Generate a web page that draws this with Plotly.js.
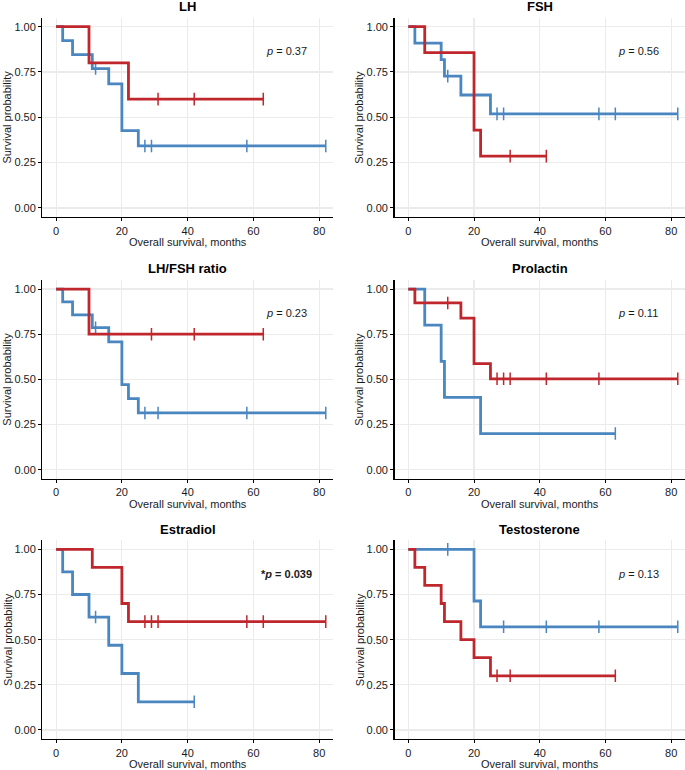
<!DOCTYPE html>
<html>
<head>
<meta charset="utf-8">
<script src="https://cdn.plot.ly/plotly-3.0.1.min.js"></script>
<style>
  html, body { margin: 0; padding: 0; background: #fff; }
  #plot { width: 685px; height: 770px; }
</style>
</head>
<body>
<div id="plot"></div>
<script>
// panel titles and p values
var panelTitles = ['LH', 'FSH', 'LH/FSH ratio', 'Prolactin', 'Estradiol', 'Testosterone'];
var pValues = ['0.37', '0.56', '0.23', '0.11', '0.039', '0.13'];
var pSignificant = [false, false, false, false, true, false];

// Kaplan-Meier steps: event times, survival after each, censor times
var lhRedTime = [0, 10, 22];
var lhRedSurv = [1, 0.8, 0.6];
var lhRedCens = [31, 42, 63];
var lhBlueTime = [0, 2, 5, 11, 16, 20, 25];
var lhBlueSurv = [1, 0.923, 0.846, 0.769, 0.684, 0.427, 0.342];
var lhBlueCens = [12, 27, 29, 58, 82];

var fshRedTime = [0, 5, 20, 22];
var fshRedSurv = [1, 0.857, 0.429, 0.286];
var fshRedCens = [31, 42];
var fshBlueTime = [0, 2, 10, 11, 16, 25];
var fshBlueSurv = [1, 0.909, 0.818, 0.727, 0.623, 0.519];
var fshBlueCens = [12, 27, 29, 58, 63, 82];

var ratioRedTime = [0, 10];
var ratioRedSurv = [1, 0.75];
var ratioRedCens = [29, 42, 63];
var ratioBlueTime = [0, 2, 5, 11, 16, 20, 22, 25];
var ratioBlueSurv = [1, 0.929, 0.857, 0.786, 0.707, 0.471, 0.393, 0.314];
var ratioBlueCens = [12, 27, 31, 58, 82];

var prlRedTime = [0, 2, 16, 20, 25];
var prlRedSurv = [1, 0.923, 0.839, 0.587, 0.503];
var prlRedCens = [12, 27, 29, 31, 42, 58, 82];
var prlBlueTime = [0, 5, 10, 11, 22];
var prlBlueSurv = [1, 0.8, 0.6, 0.4, 0.2];
var prlBlueCens = [63];

var e2RedTime = [0, 11, 20, 22];
var e2RedSurv = [1, 0.9, 0.7, 0.6];
var e2RedCens = [27, 29, 31, 58, 63, 82];
var e2BlueTime = [0, 2, 5, 10, 16, 20, 25];
var e2BlueSurv = [1, 0.875, 0.75, 0.625, 0.469, 0.3125, 0.156];
var e2BlueCens = [12, 42];

var testRedTime = [0, 2, 5, 10, 11, 16, 20, 25];
var testRedSurv = [1, 0.9, 0.8, 0.7, 0.6, 0.5, 0.4, 0.3];
var testRedCens = [27, 31, 63];
var testBlueTime = [0, 20, 22];
var testBlueSurv = [1, 0.714, 0.571];
var testBlueCens = [12, 29, 42, 58, 82];

var xTicks = [0, 20, 40, 60, 80];
var yTicks = [0, 0.25, 0.5, 0.75, 1];
var yTickText = ['0.00', '0.25', '0.50', '0.75', '1.00'];

var RED = '#C0272D';
var BLUE = '#4A86C0';
var W = 685, H = 770;
var FONT = 'Liberation Sans, Arial, sans-serif';

var panels = [
  [[lhRedTime, lhRedSurv, lhRedCens], [lhBlueTime, lhBlueSurv, lhBlueCens]],
  [[fshRedTime, fshRedSurv, fshRedCens], [fshBlueTime, fshBlueSurv, fshBlueCens]],
  [[ratioRedTime, ratioRedSurv, ratioRedCens], [ratioBlueTime, ratioBlueSurv, ratioBlueCens]],
  [[prlRedTime, prlRedSurv, prlRedCens], [prlBlueTime, prlBlueSurv, prlBlueCens]],
  [[e2RedTime, e2RedSurv, e2RedCens], [e2BlueTime, e2BlueSurv, e2BlueCens]],
  [[testRedTime, testRedSurv, testRedCens], [testBlueTime, testBlueSurv, testBlueCens]]
];

// pixel boxes of the plot areas
var colPx = [[42.3, 333], [394.5, 685]];
var rowPx = [[17.6, 217], [280, 478.7], [540.3, 739]];

function survAt(times, surv, t) {
  var s = surv[0];
  for (var i = 0; i < times.length; i++) if (times[i] <= t) s = surv[i];
  return s;
}

function kmTraces(curve, color, xa, ya) {
  var times = curve[0], surv = curve[1], cens = curve[2];
  var end = Math.max(times[times.length - 1], cens.length ? cens[cens.length - 1] : 0);
  var line = {
    x: times.concat([end]),
    y: surv.concat([surv[surv.length - 1]]),
    type: 'scatter', mode: 'lines',
    line: {color: color, width: 2.8, shape: 'hv'},
    xaxis: xa, yaxis: ya, hoverinfo: 'skip'
  };
  var marks = {
    x: cens,
    y: cens.map(function (c) { return survAt(times, surv, c); }),
    type: 'scatter', mode: 'markers',
    marker: {symbol: 'line-ns-open', size: 9, color: color, line: {color: color, width: 1.5}},
    xaxis: xa, yaxis: ya, hoverinfo: 'skip'
  };
  return [line, marks];
}

var data = [];
var layout = {
  width: W, height: H,
  margin: {l: 0, r: 0, t: 0, b: 0},
  paper_bgcolor: '#fff', plot_bgcolor: '#fff',
  showlegend: false,
  font: {family: FONT, color: '#1a1a1a'},
  annotations: []
};

panels.forEach(function (p, i) {
  var n = i + 1;
  var xa = 'x' + (n === 1 ? '' : n), ya = 'y' + (n === 1 ? '' : n);
  var col = i % 2, row = Math.floor(i / 2);
  var cx = colPx[col], ry = rowPx[row];

  data = data.concat(kmTraces(p[1], BLUE, xa, ya), kmTraces(p[0], RED, xa, ya));

  layout['xaxis' + (n === 1 ? '' : n)] = {
    domain: [cx[0] / W, cx[1] / W], anchor: ya,
    range: [-4.2, 84.2], tickvals: xTicks,
    showline: true, linecolor: '#000', linewidth: 1.3,
    ticks: 'outside', ticklen: 3, tickcolor: '#000', tickwidth: 1,
    showgrid: true, gridcolor: '#ebebeb', gridwidth: 1.2, zeroline: false,
    tickfont: {size: 11, color: '#1a1a1a'}, fixedrange: true
  };
  layout['yaxis' + (n === 1 ? '' : n)] = {
    domain: [1 - ry[1] / H, 1 - ry[0] / H], anchor: xa,
    range: [-0.05, 1.05], tickvals: yTicks, ticktext: yTickText,
    showline: true, linecolor: '#000', linewidth: 1.3,
    ticks: 'outside', ticklen: 3, tickcolor: '#000', tickwidth: 1,
    showgrid: true, gridcolor: '#ebebeb', gridwidth: 1.2, zeroline: false,
    tickfont: {size: 11, color: '#1a1a1a'}, fixedrange: true
  };

  var midX = (cx[0] + cx[1]) / 2 / W;
  // panel title
  layout.annotations.push({
    text: '<b>' + panelTitles[i] + '</b>', xref: 'paper', yref: 'paper',
    x: midX, y: 1 - (ry[0] - 11) / H, xanchor: 'center', yanchor: 'middle',
    showarrow: false, font: {size: 13, color: '#000'}
  });
  // x axis title
  layout.annotations.push({
    text: 'Overall survival, months', xref: 'paper', yref: 'paper',
    x: midX, y: 1 - (ry[1] + 25) / H, xanchor: 'center', yanchor: 'middle',
    showarrow: false, font: {size: 11, color: '#1a1a1a'}
  });
  // y axis title
  layout.annotations.push({
    text: 'Survival probability', xref: 'paper', yref: 'paper', textangle: -90,
    x: (cx[0] - 35) / W, y: 1 - (ry[0] + ry[1]) / 2 / H, xanchor: 'center', yanchor: 'middle',
    showarrow: false, font: {size: 11, color: '#1a1a1a'}
  });
  // p value
  var ptxt = pSignificant[i] ? '<b>*<i>p</i> = ' + pValues[i] + '</b>' : '<i>p</i> = ' + pValues[i];
  layout.annotations.push({
    text: ptxt, xref: xa, yref: ya, x: 70, y: 0.865,
    xanchor: 'center', yanchor: 'middle', showarrow: false,
    font: {size: 11, color: '#1a1a1a'}
  });
});

Plotly.newPlot('plot', data, layout, {displayModeBar: false, staticPlot: true});
</script>
</body>
</html>
